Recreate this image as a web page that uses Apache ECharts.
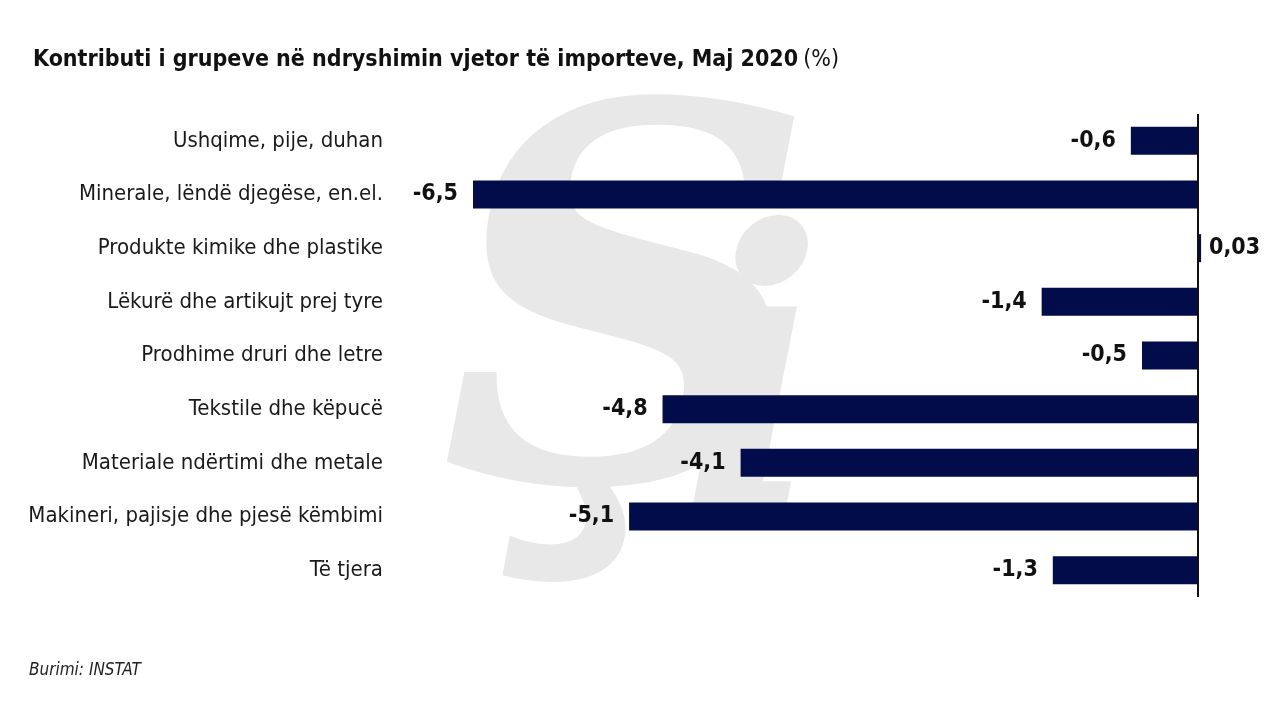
<!DOCTYPE html>
<html><head><meta charset="utf-8">
<script src="https://cdn.jsdelivr.net/npm/echarts@6/dist/echarts.min.js"></script>
<style>html,body{margin:0;padding:0;background:#fff}#c{width:1280px;height:720px}</style>
</head><body><div id="c"></div>
<script>
const categories = ["Ushqime, pije, duhan","Minerale, lëndë djegëse, en.el.","Produkte kimike dhe plastike","Lëkurë dhe artikujt prej tyre","Prodhime druri dhe letre","Tekstile dhe këpucë","Materiale ndërtimi dhe metale","Makineri, pajisje dhe pjesë këmbimi","Të tjera"];
const values = [-0.6,-6.5,0.03,-1.4,-0.5,-4.8,-4.1,-5.1,-1.3];
const FONT = '"Liberation Sans Narrow","DejaVu Sans Condensed","Liberation Sans",sans-serif';
const chart = echarts.init(document.getElementById('c'));
chart.setOption({
  animation:false,
  backgroundColor:'#fff',
  title:{
    text:'{b|Kontributi i grupeve në ndryshimin vjetor të importeve, Maj 2020} {n|(%)}',
    left:28, top:44,
    textStyle:{rich:{
      b:{fontFamily:FONT,fontWeight:'bold',fontSize:23,color:'#111'},
      n:{fontFamily:FONT,fontWeight:'normal',fontSize:23,color:'#111'}
    }}
  },
  graphic:[
    {type:'text',left:29,top:662,z:10,style:{text:'Burimi: INSTAT',font:'italic 17px '+FONT,fill:'#222'}},
    {type:'text',x:440,y:85,z:-10,silent:true,style:{text:'Ş',font:'italic bold 520px "DejaVu Serif",serif',fill:'#e8e8e8'}},
    {type:'text',x:680,y:215,z:-10,silent:true,style:{text:'i',font:'italic bold 380px "DejaVu Serif",serif',fill:'#e8e8e8'}}
  ],
  grid:{left:473,right:26.5,top:114,bottom:123},
  xAxis:{type:'value',min:-6.5,max:0.5,show:false},
  yAxis:{type:'category',data:categories,inverse:true,
    axisLine:{show:false},axisTick:{show:false},splitLine:{show:false},
    axisLabel:{margin:90,fontFamily:FONT,fontSize:22,color:'#1a1a1a'}},
  series:[{
    type:'bar',barWidth:28,itemStyle:{color:'#020c4b'},
    data:values.map(v=>({value:v,label:{position:v>=0?'right':'left',distance:v>=0?8:15}})),
    label:{show:true,fontFamily:FONT,fontWeight:'bold',fontSize:23,color:'#111',
      formatter:p=>String(p.value).replace('.',',')},
    markLine:{silent:true,symbol:'none',label:{show:false},
      lineStyle:{color:'#111',width:2,type:'solid'},data:[{xAxis:0}]}
  }]
});
</script></body></html>
